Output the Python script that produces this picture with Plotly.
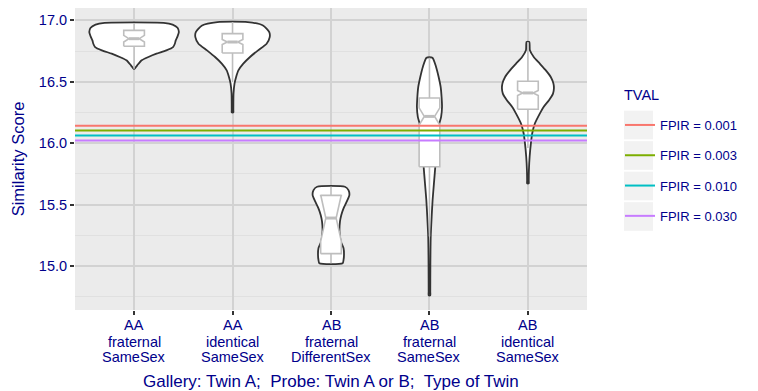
import plotly.graph_objects as go

# ---- data -------------------------------------------------------------
group_lines = [
    ["AA", "fraternal", "SameSex"],
    ["AA", "identical", "SameSex"],
    ["AB", "fraternal", "DifferentSex"],
    ["AB", "fraternal", "SameSex"],
    ["AB", "identical", "SameSex"],
]

# violin outlines: score levels (top -> bottom) and relative density (max = 1)
aa_frat_same_score = [16.980, 16.966, 16.940, 16.905, 16.870, 16.837, 16.810,
                      16.783, 16.756, 16.729, 16.702, 16.675, 16.634, 16.607]
aa_frat_same_density = [0.66, 0.86, 0.97, 1.00, 0.97, 0.93, 0.91,
                        0.87, 0.72, 0.50, 0.32, 0.17, 0.07, 0.012]

aa_iden_same_score = [16.986, 16.959, 16.905, 16.864, 16.810, 16.756, 16.702,
                      16.648, 16.593, 16.539, 16.485, 16.404, 16.270, 16.250]
aa_iden_same_density = [0.34, 0.68, 0.82, 0.83, 0.76, 0.57, 0.39,
                        0.24, 0.13, 0.08, 0.044, 0.022, 0.018, 0.018]

ab_frat_diff_score = [15.645, 15.618, 15.577, 15.523, 15.469, 15.415, 15.360,
                      15.279, 15.198, 15.144, 15.089, 15.049, 15.022]
ab_frat_diff_density = [0.31, 0.39, 0.41, 0.35, 0.28, 0.23, 0.20,
                        0.19, 0.22, 0.28, 0.29, 0.28, 0.26]

ab_frat_same_score = [16.696, 16.621, 16.539, 16.458, 16.377, 16.295, 16.214,
                      16.160, 16.051, 15.943, 15.808, 15.672, 15.537, 15.401,
                      15.238, 14.995, 14.790, 14.760]
ab_frat_same_density = [0.066, 0.148, 0.205, 0.25, 0.27, 0.28, 0.26,
                        0.22, 0.19, 0.16, 0.13, 0.10, 0.07, 0.049,
                        0.028, 0.020, 0.018, 0.018]

ab_iden_same_score = [16.824, 16.756, 16.702, 16.648, 16.593, 16.539, 16.485,
                      16.445, 16.404, 16.350, 16.295, 16.241, 16.160, 16.079,
                      15.998, 15.889, 15.780, 15.695, 15.672]
ab_iden_same_density = [0.03, 0.044, 0.13, 0.265, 0.40, 0.51, 0.57,
                        0.58, 0.56, 0.47, 0.35, 0.265, 0.155, 0.095,
                        0.066, 0.038, 0.022, 0.018, 0.018]

# notched box plot statistics per group
box_q1 = [16.789, 16.734, 15.100, 15.808, 16.276]
box_median = [16.851, 16.824, 15.390, 16.218, 16.409]
box_q3 = [16.919, 16.892, 15.575, 16.368, 16.504]
box_lower = [16.607, 16.497, 15.022, 15.240, 15.960]
box_upper = [16.978, 16.986, 15.645, 16.696, 16.824]
box_notch = [0.027, 0.020, 0.190, 0.070, 0.020]

# decision thresholds
tval_score = [16.141, 16.103, 16.062, 16.022]
tval_label = ["FPIR = 0.001", "FPIR = 0.003", "FPIR = 0.010", "FPIR = 0.030"]
tval_color = ["#F8766D", "#7CAE00", "#00BFC4", "#C77CFF"]

# ---- styling ----------------------------------------------------------
TEXT = "#00008B"
FONT = "Liberation Sans, Arial, sans-serif"
X_RANGE = [-0.6, 4.6]
Y_RANGE = [14.641, 17.101]
HALF = 0.455          # violin half-width at density 1 (category units)
BOX_HALF = 0.105      # box half-width (category units)
NOTCH_DEPTH = 0.5     # fraction of the box half-width kept at the median
BOX_COLOR = "#BEBEBE"
PLOT_L, PLOT_R, PLOT_T, PLOT_B = 75, 587, 8, 310

violins = [
    (aa_frat_same_score, aa_frat_same_density),
    (aa_iden_same_score, aa_iden_same_density),
    (ab_frat_diff_score, ab_frat_diff_density),
    (ab_frat_same_score, ab_frat_same_density),
    (ab_iden_same_score, ab_iden_same_density),
]

fig = go.Figure()

# violins
for i, (score, dens) in enumerate(violins):
    right = [i + HALF * d for d in dens]
    left = [i - HALF * d for d in dens]
    xs = right + left[::-1] + [right[0]]
    ys = score + score[::-1] + [score[0]]
    fig.add_trace(go.Scatter(
        x=xs, y=ys, mode="lines", fill="toself", fillcolor="white",
        line=dict(color="#333333", width=1.8, shape="spline", smoothing=0.6),
        showlegend=False, hoverinfo="skip",
    ))

# whiskers
for i in range(len(group_lines)):
    fig.add_trace(go.Scatter(
        x=[i, i, None, i, i],
        y=[box_q3[i], box_upper[i], None, box_q1[i], box_lower[i]],
        mode="lines", line=dict(color=BOX_COLOR, width=1.6),
        showlegend=False, hoverinfo="skip",
    ))

# notched boxes and medians
for i in range(len(group_lines)):
    lo, hi = i - BOX_HALF, i + BOX_HALF
    mlo, mhi = i - BOX_HALF * NOTCH_DEPTH, i + BOX_HALF * NOTCH_DEPTH
    med, ns = box_median[i], box_notch[i]
    q1, q3 = box_q1[i], box_q3[i]
    fig.add_trace(go.Scatter(
        x=[lo, lo, mlo, lo, lo, hi, hi, mhi, hi, hi, lo],
        y=[q1, med - ns, med, med + ns, q3, q3, med + ns, med, med - ns, q1, q1],
        mode="lines", fill="toself", fillcolor="white",
        line=dict(color=BOX_COLOR, width=1.6),
        showlegend=False, hoverinfo="skip",
    ))
    fig.add_trace(go.Scatter(
        x=[mlo, mhi], y=[med, med], mode="lines",
        line=dict(color=BOX_COLOR, width=3),
        showlegend=False, hoverinfo="skip",
    ))

# threshold lines
for t, lab, col in zip(tval_score, tval_label, tval_color):
    fig.add_trace(go.Scatter(
        x=X_RANGE, y=[t, t], mode="lines", name=lab, legendgroup=lab,
        line=dict(color=col, width=2),
    ))

# x tick labels, one annotation per text line
ann = []
line_offsets = [15, 31.7, 47.3]
for i, lines in enumerate(group_lines):
    for j, txt in enumerate(lines):
        ann.append(dict(
            x=i, xref="x", y=0, yref="paper", yanchor="middle", xanchor="center",
            yshift=-line_offsets[j], text=txt, showarrow=False,
            font=dict(size=14.5, color=TEXT, family=FONT),
        ))
ann.append(dict(
    x=0.5, xref="paper", y=0, yref="paper", yanchor="middle", xanchor="center",
    yshift=-71.6, text="Gallery: Twin A;\u00a0 Probe: Twin A or B;\u00a0 Type of Twin",
    showarrow=False, font=dict(size=17, color=TEXT, family=FONT),
))
W = PLOT_R - PLOT_L
H = PLOT_B - PLOT_T
ann.append(dict(
    x=(18.3 - PLOT_L) / W, xref="paper", y=0.5, yref="paper",
    xanchor="center", yanchor="middle", textangle=-90, text="Similarity Score",
    showarrow=False, font=dict(size=16.5, color=TEXT, family=FONT),
))
# legend title
ann.append(dict(
    x=(622 - PLOT_L) / W, xref="paper", y=(PLOT_B - 95) / H, yref="paper",
    xanchor="left", yanchor="middle", text="TVAL", showarrow=False,
    font=dict(size=14.5, color=TEXT, family=FONT),
))

# grey legend key backgrounds
shapes = []
key_left, key_w, key_h, key_center, key_step = 624, 29, 28.7, 125, 30.5
for k in range(len(tval_label)):
    c = key_center + k * key_step
    shapes.append(dict(
        type="rect", xref="paper", yref="paper", layer="above",
        x0=(key_left - PLOT_L) / W, x1=(key_left + key_w - PLOT_L) / W,
        y0=(PLOT_B - (c - key_h / 2)) / H, y1=(PLOT_B - (c + key_h / 2)) / H,
        fillcolor="#F2F2F2", line=dict(width=0),
    ))

axis_common = dict(showline=False, zeroline=False)
fig.update_layout(
    width=758, height=391, autosize=False,
    margin=dict(l=PLOT_L, r=758 - PLOT_R, t=PLOT_T, b=391 - PLOT_B, pad=0),
    paper_bgcolor="white", plot_bgcolor="#EBEBEB",
    font=dict(family=FONT, color=TEXT),
    xaxis=dict(range=X_RANGE, tickvals=list(range(len(group_lines))),
               showticklabels=False, ticks="outside", ticklen=4, tickwidth=1.5,
               tickcolor="#333333", showgrid=True, gridcolor="#D2D2D2",
               gridwidth=1.6, **axis_common),
    yaxis=dict(range=Y_RANGE, tick0=15, dtick=0.5, tickformat=".1f",
               ticks="outside", ticklen=4, tickwidth=1.5, tickcolor="#333333",
               tickfont=dict(size=14.5, color=TEXT, family=FONT),
               showgrid=True, gridcolor="#D2D2D2", gridwidth=1.6,
               minor=dict(dtick=0.25, showgrid=True, gridcolor="#E0E0E0", gridwidth=1),
               **axis_common),
    showlegend=True,
    legend=dict(
        x=(620 - PLOT_L) / W, y=(PLOT_B - 110) / H, xanchor="left", yanchor="top",
        bgcolor="rgba(0,0,0,0)", borderwidth=0,
        font=dict(size=13, color=TEXT, family=FONT),
        traceorder="grouped", tracegroupgap=10.4,
    ),
    annotations=ann, shapes=shapes,
)

fig.write_html("out.html")
